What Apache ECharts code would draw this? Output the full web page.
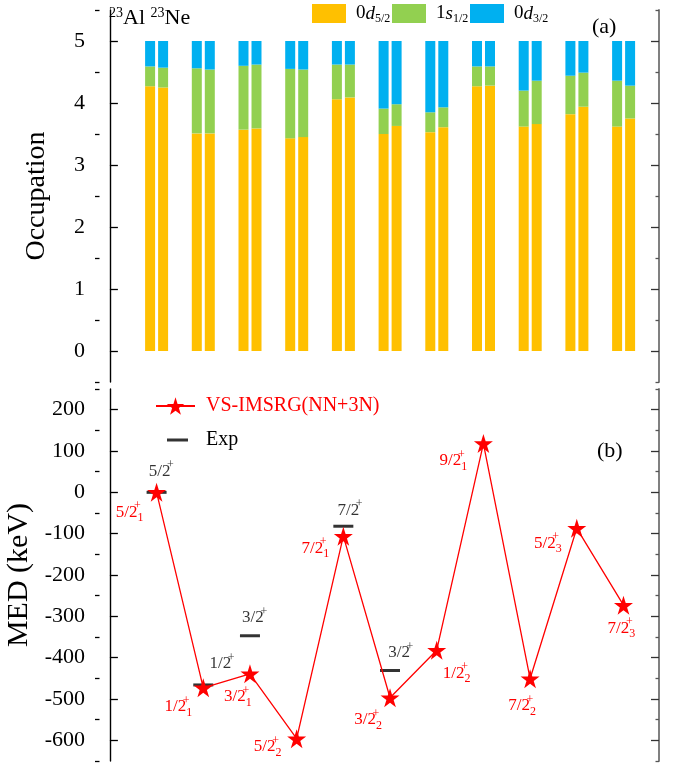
<!DOCTYPE html>
<html><head><meta charset="utf-8">
<script src="https://cdn.jsdelivr.net/npm/echarts@6/dist/echarts.min.js"></script>
<style>html,body{margin:0;padding:0;background:#fff}#c{width:682px;height:763px}</style>
</head><body><div id="c"></div>
<script>
// ---------- data ----------
const states     = ['5/2','1/2','3/2','5/2','7/2','3/2','1/2','9/2','7/2','5/2','7/2'];
const stateIndex = ['1','1','1','2','1','2','2','1','2','3','3'];
// occupations (a): 23Al and 23Ne
const al_d52 = [4.27,3.51,3.57,3.43,4.06,3.50,3.53,4.27,3.62,3.82,3.62];
const al_s12 = [0.32,1.05,1.03,1.12,0.56,0.41,0.32,0.32,0.58,0.62,0.74];
const al_d32 = [0.41,0.44,0.40,0.45,0.38,1.09,1.15,0.41,0.80,0.56,0.64];
const ne_d52 = [4.25,3.51,3.59,3.45,4.09,3.63,3.61,4.28,3.66,3.94,3.75];
const ne_s12 = [0.32,1.03,1.03,1.09,0.53,0.35,0.32,0.31,0.70,0.55,0.53];
const ne_d32 = [0.43,0.46,0.38,0.46,0.38,1.02,1.07,0.41,0.64,0.51,0.72];
// MED (b), keV
const medCalc = [0,-473,-439,-596,-106,-497,-382,118,-451,-87,-273];
const medExp  = [0,-466,-347,null,-82,-431,null,null,null,null,null];
// tick values
const occMajor = [0,1,2,3,4,5];
const occMinor = [-0.5,0.5,1.5,2.5,3.5,4.5,5.5];
const medMajor = [-600,-500,-400,-300,-200,-100,0,100,200];
const medMinor = [-650,-550,-450,-350,-250,-150,-50,50,150,250];

// ---------- layout (label offsets, px) ----------
const calcOff = [[-27,20],[-25,19],[-12,23],[-29,8],[-28,12],[-22,22],[20,23],[-30,17],[-8,27],[-29,15],[-2,23]];
const expOff  = [[3,-21],[17,-21],[3,-18],null,[5,-16],[9,-18]];

const FONT = 'Liberation Serif';
const STAR = 'path://M50,0L61.2,34.5L97.6,34.5L68.2,55.9L79.4,90.5L50,69.1L20.6,90.5L31.8,55.9L2.4,34.5L38.8,34.5Z';
const C1 = '#FFC000', C2 = '#92D050', C3 = '#00B0F0';
const XMIN = -0.319, XMAX = 11.761;
const cats = states.map((s, i) => 'S' + (i + 1));

function yAx(grid, pos, min, max, ticks, len, opts) {
  opts = opts || {};
  return {
    type: 'value', gridIndex: grid, position: pos, min: min, max: max,
    name: opts.name || '', nameLocation: 'middle', nameGap: opts.nameGap || 0,
    nameTextStyle: {fontFamily: FONT, fontSize: opts.nameSize || 28, color: '#000'},
    axisLine: {show: !!opts.line, lineStyle: {color: opts.lineColor || '#000', width: opts.lineWidth || 1.4}},
    axisTick: {show: true, inside: true, length: len, customValues: ticks,
               lineStyle: {color: opts.tickColor || '#000', width: 1.3}},
    axisLabel: opts.labels ? {show: true, customValues: ticks, margin: 10,
               fontFamily: FONT, fontSize: 22, color: '#000',
               formatter: v => '{t|' + v + '}',
               rich: {t: {fontFamily: FONT, fontSize: 22, color: '#000'}}} : {show: false},
    splitLine: {show: false}
  };
}

const barSeries = [];
[['al', [al_d52, al_s12, al_d32]], ['ne', [ne_d52, ne_s12, ne_d32]]].forEach(([stk, arrs]) => {
  ['d52','s12','d32'].forEach((nm, k) => {
    barSeries.push({
      type: 'bar', name: nm, stack: stk, xAxisIndex: 2, yAxisIndex: 8,
      barWidth: 10, barGap: '30%',
      itemStyle: {color: [C1, C2, C3][k]},
      data: arrs[k]
    });
  });
});

const legText = {d52: '{n|0}{i|d}{s|5/2}', s12: '{n|1}{i|s}{s|1/2}', d32: '{n|0}{i|d}{s|3/2}'};
const legRich = {
  n: {fontFamily: FONT, fontSize: 19, color: '#000', lineHeight: 22},
  i: {fontFamily: FONT, fontSize: 19, fontStyle: 'italic', color: '#000', lineHeight: 22},
  s: {fontFamily: FONT, fontSize: 12, color: '#000', lineHeight: 12, verticalAlign: 'bottom'}
};
function topLegend(nm, left) {
  return {data: [nm], left: left, top: 4, padding: 0, itemWidth: 34, itemHeight: 19, icon: 'rect',
    formatter: n => legText[n], selectedMode: false,
    textStyle: {fontFamily: FONT, padding: [0, 0, 0, 5], rich: legRich}};
}

function labRich(col) {
  const b = {textBorderWidth: 0, textBorderColor: 'transparent', textShadowBlur: 0};
  return {
    m:  Object.assign({fontFamily: FONT, fontSize: 17, lineHeight: 24, color: col}, b),
    sp: Object.assign({fontFamily: FONT, fontSize: 12, lineHeight: 11, verticalAlign: 'top', width: 0, color: col}, b),
    sb: Object.assign({fontFamily: FONT, fontSize: 12, lineHeight: 11, verticalAlign: 'bottom', color: col}, b)
  };
}

const option = {
  animation: false,
  backgroundColor: '#fff',
  textStyle: {fontFamily: FONT, color: '#000'},
  title: [
    {text: '{s|23}{m|Al }{s|23}{m|Ne}', left: 109, top: 6, padding: 0,
     textStyle: {fontFamily: FONT, fontWeight: 'normal', rich: {
       s: {fontFamily: FONT, fontWeight: 'normal', fontSize: 14, color: '#000', verticalAlign: 'top', lineHeight: 12},
       m: {fontFamily: FONT, fontWeight: 'normal', fontSize: 22, color: '#000', lineHeight: 25}}}},
    {text: '(a)', left: 592, top: 16, padding: 0, textStyle: {fontFamily: FONT, fontSize: 22, fontWeight: 'normal', color: '#000'}},
    {text: '(b)', left: 597, top: 440, padding: 0, textStyle: {fontFamily: FONT, fontSize: 22, fontWeight: 'normal', color: '#000'}}
  ],
  legend: [
    topLegend('d52', 312), topLegend('s12', 392), topLegend('d32', 470),
    {data: ['VS-IMSRG(NN+3N)'], left: 155, top: 396, padding: 0, itemWidth: 39, itemHeight: 22, selectedMode: false,
     textStyle: {fontFamily: FONT, fontSize: 20, color: '#f00', padding: [0, 0, 0, 6]}},
    {data: [{name: 'Exp', icon: 'rect'}], left: 167, top: 430, padding: 0, itemWidth: 21, itemHeight: 3, selectedMode: false,
     textStyle: {fontFamily: FONT, fontSize: 20, color: '#000', padding: [0, 0, 0, 13]}}
  ],
  grid: [
    {left: 95, right: 23, top: 10, height: 372, outerBoundsMode: 'none'},
    {left: 95, right: 23, top: 389, height: 372, outerBoundsMode: 'none'},
    {left: 133.25, right: 35.05, top: 10, height: 372, outerBoundsMode: 'none'}
  ],
  xAxis: [
    {type: 'value', gridIndex: 0, min: XMIN, max: XMAX, show: false},
    {type: 'value', gridIndex: 1, min: XMIN, max: XMAX, show: false},
    {type: 'category', gridIndex: 2, data: cats, boundaryGap: true, show: false}
  ],
  yAxis: [
    yAx(0, 'left', -0.5, 5.5, occMajor, 8, {line: true, labels: true, name: 'Occupation', nameGap: 44}),
    yAx(0, 'left', -0.5, 5.5, occMinor, 4.5),
    yAx(0, 'right', -0.5, 5.5, occMajor, 8, {line: true, lineColor: '#808080', lineWidth: 2, tickColor: '#333'}),
    yAx(0, 'right', -0.5, 5.5, occMinor, 3.5, {tickColor: '#555'}),
    yAx(1, 'left', -650, 250, medMajor, 8, {line: true, labels: true, name: 'MED (keV)', nameGap: 47, nameSize: 30}),
    yAx(1, 'left', -650, 250, medMinor, 4.5),
    yAx(1, 'right', -650, 250, medMajor, 8, {line: true, lineColor: '#808080', lineWidth: 2, tickColor: '#333'}),
    yAx(1, 'right', -650, 250, medMinor, 3.5, {tickColor: '#555'}),
    {type: 'value', gridIndex: 2, min: -0.5, max: 5.5, show: false}
  ],
  series: barSeries.concat([
    {type: 'scatter', name: 'Exp', xAxisIndex: 1, yAxisIndex: 4, z: 2,
     symbol: 'rect', symbolSize: [20, 3], itemStyle: {color: '#000'},
     label: {show: true, position: 'inside', color: '#000', textBorderWidth: 0,
             formatter: p => '{m|' + states[p.value[0] - 1] + '}{sp|+}', rich: labRich('#000')},
     data: medExp.map((v, i) => v == null ? null : {value: [i + 1, v], label: {offset: expOff[i]}}).filter(Boolean)},
    {type: 'line', name: 'VS-IMSRG(NN+3N)', xAxisIndex: 1, yAxisIndex: 4, z: 3,
     symbol: STAR, symbolSize: 19, showAllSymbol: true,
     lineStyle: {color: '#f00', width: 1.3}, itemStyle: {color: '#f00'},
     label: {show: true, position: 'inside', color: '#f00', textBorderWidth: 0,
             formatter: p => '{m|' + states[p.dataIndex] + '}{sp|+}{sb|' + stateIndex[p.dataIndex] + '}', rich: labRich('#f00')},
     data: medCalc.map((v, i) => ({value: [i + 1, v], label: {offset: calcOff[i]}}))}
  ])
};

const chart = echarts.init(document.getElementById('c'), null, {renderer: 'canvas'});
chart.setOption(option);
</script></body></html>
